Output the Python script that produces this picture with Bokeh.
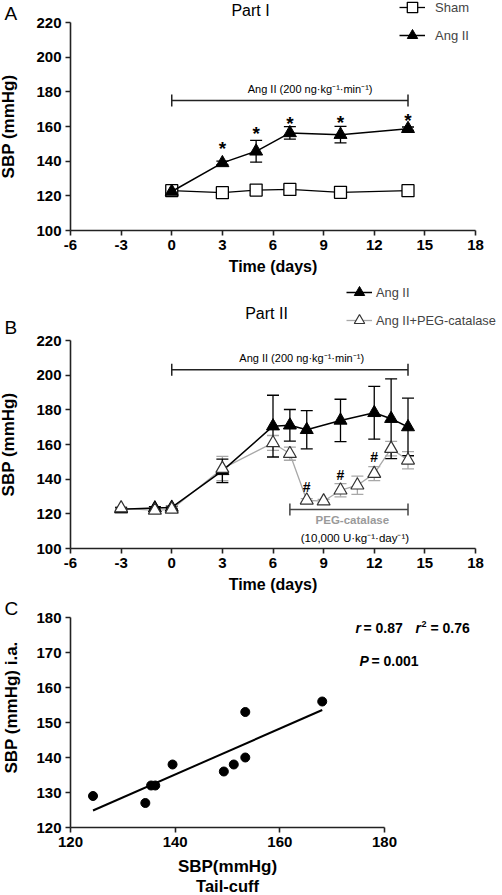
import math
import numpy as np
from bokeh.plotting import figure
from bokeh.layouts import column
from bokeh.models import (Range1d, Whisker, TeeHead, ColumnDataSource, Legend,
                          LegendItem, Label, FixedTicker)
from bokeh.core.properties import value
from bokeh.embed import file_html
from bokeh.resources import INLINE

# ---------------- data ----------------
# Panel A (Part I)
days_a = [0, 3, 5, 7, 10, 14]
sham_a = [123.0, 121.8, 123.3, 123.7, 122.0, 123.0]
sham_a_sem = [0.8, 0.8, 0.8, 0.8, 0.8, 0.8]
ang_a = [122.5, 139.0, 145.7, 156.3, 155.3, 158.7]
ang_a_sem = [0.8, 1.0, 6.3, 3.6, 4.8, 1.0]
star_days_a = [3, 5, 7, 10, 14]

# Panel B (Part II)
days_ang_b = [-3, -1, 0, 3, 6, 7, 8, 10, 12, 13, 14]
ang_b = [122.7, 123.3, 123.7, 144.8, 170.6, 171.1, 168.5, 173.9, 178.3, 174.9, 170.1]
ang_b_sem = [0.8, 0.8, 0.8, 6.8, 17.8, 9.1, 11.0, 12.2, 15.2, 23.0, 16.6]
days_peg_b = [-3, -1, 0, 3, 6, 7, 8, 9, 10, 11, 12, 13, 14]
peg_b = [123.3, 122.0, 122.6, 146.1, 160.9, 154.7, 127.8, 127.3, 133.6, 136.5, 143.2, 157.6, 150.9]
peg_b_sem = [0.8, 0.8, 0.8, 7.0, 4.3, 3.8, 1.0, 1.0, 3.8, 5.3, 4.0, 4.2, 5.0]
hash_days_b = [8, 10, 12]

ang_infusion = [0, 14]
peg_infusion = [7, 14]

# Panel C
tail_cuff = [124.3, 134.3, 135.4, 136.2, 139.5, 149.3, 151.2, 153.4, 153.4, 168.1]
intra_art = [129, 127, 132, 132, 138, 136, 138, 140, 153, 156]

time_ticks = [-6, -3, 0, 3, 6, 9, 12, 15, 18]
sbp_ticks = [100, 120, 140, 160, 180, 200, 220]
c_xticks = [120, 140, 160, 180]
c_yticks = [120, 130, 140, 150, 160, 170, 180]

# annotation anchors (significance marks, in axis units)
star_pos_a = [147.4, 156.0, 161.8, 162.4, 163.3]
hash_pos_b = [135.5, 142.6, 152.8]

FONT = "Liberation Sans"
GRAY = "#a8a8a8"
DARK = "#222222"
W = 500


def make_panel(h, xlim, ylim, px_x, px_y):
    """Figure whose frame fills the canvas; axes drawn at fixed data locations."""
    sx = (px_x[1] - px_x[0]) / (xlim[1] - xlim[0])
    sy = (px_y[1] - px_y[0]) / (ylim[1] - ylim[0])
    x0 = xlim[0] - px_x[0] / sx
    x1 = xlim[1] + (W - px_x[1]) / sx
    y1 = ylim[1] + px_y[0] / sy
    y0 = ylim[0] - (h - px_y[1]) / sy
    p = figure(width=W, height=h, min_border=0, min_border_left=0, min_border_right=0,
               min_border_top=0, min_border_bottom=0,
               x_range=Range1d(x0, x1), y_range=Range1d(y0, y1),
               output_backend="svg", toolbar_location=None)
    p.outline_line_color = None
    p.grid.visible = False
    p.xaxis[0].fixed_location = ylim[0]
    p.xaxis[0].bounds = xlim
    p.yaxis[0].fixed_location = xlim[0]
    p.yaxis[0].bounds = ylim
    return p


def style_axes(p, xticks, yticks, xlabel, ylabel, tick_size="15px",
               xl_size="16px", yl_size="17px", ystand=15):
    for ax in (p.xaxis[0], p.yaxis[0]):
        ax.axis_line_width = 1.6
        ax.axis_line_color = DARK
        ax.major_tick_line_width = 1.6
        ax.major_tick_line_color = DARK
        ax.major_tick_out = 5
        ax.major_tick_in = 0
        ax.minor_tick_line_color = None
        ax.major_label_text_font = FONT
        ax.major_label_text_font_style = "bold"
        ax.major_label_text_font_size = tick_size
        ax.major_label_text_color = "black"
        ax.major_label_standoff = 4
        ax.axis_label_text_font = FONT
        ax.axis_label_text_font_style = "bold"
        ax.axis_label_text_color = "black"
    p.xaxis[0].ticker = FixedTicker(ticks=xticks)
    p.yaxis[0].ticker = FixedTicker(ticks=yticks)
    p.xaxis[0].major_label_overrides = {t: str(t) for t in xticks if t < 0}
    p.xaxis[0].axis_label = xlabel
    if ylabel:
        p.yaxis[0].axis_label = ylabel
    p.xaxis[0].axis_label_text_font_size = xl_size
    p.yaxis[0].axis_label_text_font_size = yl_size
    p.xaxis[0].axis_label_standoff = 5
    p.yaxis[0].axis_label_standoff = ystand


def err_bars(p, xs, ys, sem, color, lw=1.3, size=12):
    src = ColumnDataSource(dict(x=xs, lo=[y - s for y, s in zip(ys, sem)],
                                hi=[y + s for y, s in zip(ys, sem)]))
    w = Whisker(base="x", lower="lo", upper="hi", source=src, dimension="height",
                line_color=color, line_width=lw,
                lower_head=TeeHead(size=size, line_color=color, line_width=lw),
                upper_head=TeeHead(size=size, line_color=color, line_width=lw),
                level="underlay")
    p.add_layout(w)


def bracket(p, y, span, color, lw=1.5, size=12):
    src = ColumnDataSource(dict(b=[y], lo=[span[0]], hi=[span[1]]))
    w = Whisker(base="b", lower="lo", upper="hi", source=src, dimension="width",
                line_color=color, line_width=lw,
                lower_head=TeeHead(size=size, line_color=color, line_width=lw),
                upper_head=TeeHead(size=size, line_color=color, line_width=lw))
    p.add_layout(w)


def label(p, h, x, y, text, size, style="normal", color="black", align="left", angle=0):
    """x, y: pixel position from the panel's top-left corner."""
    p.add_layout(Label(x=x, y=h - y, x_units="screen", y_units="screen", text=text,
                       text_font=FONT, text_font_size=size, text_font_style=style,
                       text_color=color, text_align=align, text_baseline="middle",
                       angle=angle))


def dtext(p, xs, ys, texts, size, style="normal", color="black"):
    p.text(x=xs, y=ys, text=texts, text_font=value(FONT), text_font_size=size,
           text_font_style=style, text_align="center", text_baseline="middle",
           text_color=color)


# ---------------- Panel A ----------------
HA = 278
pa = make_panel(HA, (-6, 18), (100, 220), (70, 475), (22, 230))
style_axes(pa, time_ticks, sbp_ticks, "Time (days)", "SBP (mmHg)")

err_bars(pa, days_a, sham_a, sham_a_sem, "black")
err_bars(pa, days_a, ang_a, ang_a_sem, "black")
l_sham = pa.line(days_a, sham_a, line_color="black", line_width=1.3)
s_sham = pa.scatter(days_a, sham_a, marker="square", size=12, fill_color="white",
                    line_color="black", line_width=1.3)
l_ang = pa.line(days_a, ang_a, line_color="black", line_width=1.5)
s_ang = pa.scatter(days_a, ang_a, marker="triangle", size=13, fill_color="black",
                   line_color="black")

dtext(pa, star_days_a, star_pos_a, ["*"] * len(star_days_a), "19px", "bold")

bracket(pa, 175, ang_infusion, DARK)
dtext(pa, [8.2], [181.6], ["Ang II (200 ng\u00b7kg\u207b\u00b9\u00b7min\u207b\u00b9)"], "11px")

label(pa, HA, 250, 10, "Part I", "16px", align="center")
label(pa, HA, 4, 13, "A", "19px")

leg_a = Legend(items=[LegendItem(label="Sham", renderers=[l_sham, s_sham]),
                      LegendItem(label="Ang II", renderers=[l_ang, s_ang])],
               location=(399, HA - 49), border_line_color=None, background_fill_alpha=0,
               padding=0, margin=0, spacing=-5, glyph_width=26, glyph_height=28,
               label_standoff=10, label_text_font=FONT, label_text_font_size="13px",
               label_height=20)
pa.add_layout(leg_a)

# ---------------- Panel B ----------------
HB = 318
TB = HA  # page offset of panel B
pb = make_panel(HB, (-6, 18), (100, 220), (70, 475), (340 - TB, 548 - TB))
style_axes(pb, time_ticks, sbp_ticks, "Time (days)", "SBP (mmHg)")

err_bars(pb, days_peg_b, peg_b, peg_b_sem, GRAY)
err_bars(pb, days_ang_b, ang_b, ang_b_sem, "black")
l_peg = pb.line(days_peg_b, peg_b, line_color=GRAY, line_width=1.3)
l_angb = pb.line(days_ang_b, ang_b, line_color="black", line_width=1.5)
s_angb = pb.scatter(days_ang_b, ang_b, marker="triangle", size=13, fill_color="black",
                    line_color="black")
s_peg = pb.scatter(days_peg_b, peg_b, marker="triangle", size=13, fill_color="white",
                   line_color="#333333", line_width=1.2)

dtext(pb, hash_days_b, hash_pos_b, ["#"] * len(hash_days_b), "14px", "bold")

bracket(pb, 203.1, ang_infusion, DARK)
dtext(pb, [7.7], [210], ["Ang II (200 ng\u00b7kg\u207b\u00b9\u00b7min\u207b\u00b9)"], "11px")
bracket(pb, 122.5, peg_infusion, "#444444")
dtext(pb, [10.7], [116.7], ["PEG-catalase"], "11.5px", "bold", "#9a9a9a")
dtext(pb, [10.95], [106.3], ["(10,000  U\u00b7kg\u207b\u00b9\u00b7day\u207b\u00b9)"], "11.5px")

label(pb, HB, 266, 313 - TB, "Part II", "16px", align="center")
label(pb, HB, 4, 327 - TB, "B", "19px")

leg_b = Legend(items=[LegendItem(label="Ang II", renderers=[l_angb, s_angb]),
                      LegendItem(label="Ang II+PEG-catalase", renderers=[l_peg, s_peg])],
               location=(346, HB - (334 - TB)), border_line_color=None,
               background_fill_alpha=0, padding=0, margin=0, spacing=-6,
               glyph_width=26, glyph_height=28, label_standoff=4,
               label_text_font=FONT, label_text_font_size="12.8px", label_height=20)
pb.add_layout(leg_b)

# ---------------- Panel C ----------------
TC = HA + HB
HC = 299
pc = make_panel(HC, (120, 180), (120, 180), (70, 384), (617 - TC, 827 - TC))
style_axes(pc, c_xticks, c_yticks, "SBP(mmHg)", None,
           tick_size="15px", xl_size="17px", yl_size="17px", ystand=13)
pc.xaxis[0].axis_label_standoff = 7

slope, intercept = np.polyfit(tail_cuff, intra_art, 1)
fit_x = [min(tail_cuff), max(tail_cuff)]
fit_y = [slope * x + intercept for x in fit_x]
pc.line(fit_x, fit_y, line_color="black", line_width=2)
pc.scatter(tail_cuff, intra_art, marker="circle", size=9, fill_color="black",
           line_color="black")

label(pc, HC, 11, 707 - TC, "SBP (mmHg) i.a.", "17px", style="bold", align="center",
      angle=math.pi / 2)
label(pc, HC, 227, 885 - TC, "Tail-cuff", "16.5px", style="bold", align="center")
label(pc, HC, 355, 627 - TC, "r", "14px", style="bold italic")
label(pc, HC, 363, 627 - TC, "= 0.87", "14px", style="bold")
label(pc, HC, 415, 627 - TC, "r", "14px", style="bold italic")
label(pc, HC, 421, 623 - TC, "2", "9px", style="bold")
label(pc, HC, 430, 627 - TC, "= 0.76", "14px", style="bold")
label(pc, HC, 359, 660 - TC, "P", "14px", style="bold italic")
label(pc, HC, 371, 660 - TC, "= 0.001", "14px", style="bold")
label(pc, HC, 4, 608 - TC, "C", "19px")

layout = column(pa, pb, pc, spacing=0)
open("out.html", "w").write(file_html(layout, INLINE))
